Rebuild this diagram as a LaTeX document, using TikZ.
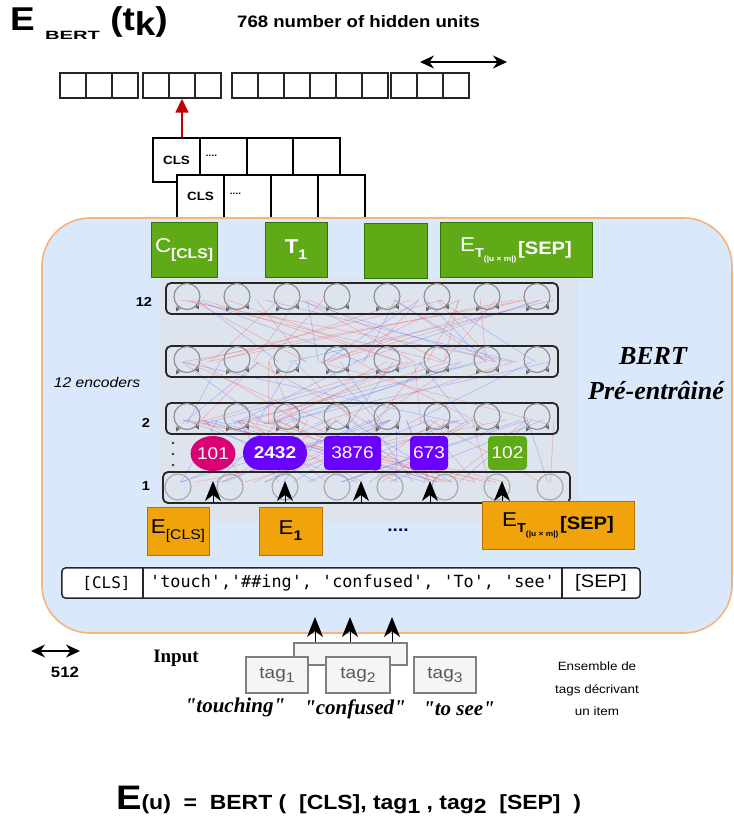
\documentclass[tikz,border=0pt]{standalone}
\usepackage{fontspec}
\setmainfont{Liberation Sans}[FakeStretch=1.12]
\newfontfamily\bertserif{Liberation Serif}
\newfontfamily\bertmono{DejaVu Sans Mono}
\usetikzlibrary{arrows.meta,positioning,calc,shapes.geometric}

\definecolor{bertblue}{HTML}{DAE8FC}
\definecolor{bertedge}{HTML}{F8B27C}
\definecolor{nnback}{HTML}{DDE4EE}
\definecolor{greenfill}{HTML}{60A917}
\definecolor{greenedge}{HTML}{2D7600}
\definecolor{orangefill}{HTML}{F0A30A}
\definecolor{orangeedge}{HTML}{BD7000}
\definecolor{magentafill}{HTML}{D80073}
\definecolor{purplefill}{HTML}{6A00FF}
\definecolor{tagfill}{HTML}{F5F5F5}
\definecolor{tagedge}{HTML}{7F7F7F}
\definecolor{clsred}{HTML}{C00000}

\newcommand{\setfs}[1]{\fontsize{#1}{#1}\selectfont}
\newcommand{\etsep}{{\setfs{20}E}\raisebox{-6pt}{\setfs{13}\bfseries T}\raisebox{-10pt}{\setfs{7.5}\bfseries(|u × m|)}\,\raisebox{-3pt}{\setfs{18}\bfseries[SEP]}}

\begin{document}
\begin{tikzpicture}[x=1pt,y=-1pt,
  cell/.style={draw=black!85,line width=1.4pt,minimum width=26pt,minimum height=25pt,inner sep=0pt},
  clscell/.style={draw=black,fill=white,line width=1.2pt,minimum width=47pt,minimum height=44pt,inner sep=0pt,font=\setfs{12}\bfseries},
  greenbox/.style={draw=greenedge,fill=greenfill,line width=0.8pt,text=white,inner sep=0pt,minimum height=55pt},
  orangebox/.style={draw=orangeedge,fill=orangefill,line width=0.8pt,inner sep=0pt,minimum height=48pt},
  enclayer/.style={draw=black!85,line width=1.8pt,rounded corners=5pt,minimum height=31pt,inner sep=0pt},
  neuron/.style={circle,draw=black!45,line width=1.1pt,minimum size=26pt,inner sep=0pt},
  idbadge/.style={text=white,inner sep=0pt,minimum height=34pt,font=\setfs{17}},
  tokcell/.style={fill=white,minimum height=30pt,inner sep=0pt},
  tagbox/.style={draw=tagedge,fill=tagfill,line width=1.8pt,minimum height=36pt,inner sep=0pt,text=black!65,font=\setfs{17}},
  headarrow/.style={-{Stealth[length=20pt,width=16pt,inset=6pt]},line width=1pt},
  dblarrow/.style={{Stealth[length=14pt,width=13pt]}-{Stealth[length=14pt,width=13pt]},line width=1.5pt},
  quotetext/.style={font=\bertserif\bfseries\itshape\setfs{21}}
]
\useasboundingbox (0,0) rectangle (734,820);

% title and hidden vector
\node[anchor=west,inner sep=0pt] (title) at (10,23)
  {\setfs{33}\bfseries E \raisebox{-9pt}{\scalebox{1.5}[1]{\setfs{12}BERT}} (t\raisebox{-5pt}{k})};
\node[anchor=west,inner sep=0pt] (hidden) at (237,22) {\setfs{16.6}\bfseries 768 number of hidden units};
\coordinate (hl) at (420,62);
\coordinate (hr) at (507,62);
\draw[dblarrow] (hl) -- (hr);
\foreach \g/\gx in {1/60,2/143,3/232,4/310,5/391}
  \foreach \c in {0,1,2}
    \node[cell] (h\g-\c) at (\gx+13+26*\c,85.5) {};

% CLS outputs
\node[clscell] (c1-1) at (176.5,160) {\raisebox{-6pt}{CLS}};
\foreach \c/\cx in {2/223.5,3/270.5,4/316.5}
  \node[clscell] (c1-\c) at (\cx,160) {};
\node[anchor=west,font=\setfs{9}\bfseries] (d1) at ([xshift=3pt,yshift=4pt]c1-2.west) {....};
\node[clscell,minimum height=43pt] (c2-1) at (200.5,196.5) {CLS};
\foreach \c/\cx in {2/247.5,3/294.5,4/341.5}
  \node[clscell,minimum height=43pt] (c2-\c) at (\cx,196.5) {};
\node[anchor=west,font=\setfs{9}\bfseries] (d2) at ([xshift=3pt,yshift=3pt]c2-2.west) {....};
\draw[clsred,line width=1.6pt,-{Triangle[length=14pt,width=13pt]}] (c1-1.north -| h2-1) -- (h2-1.south);

% BERT block
\draw[draw=bertedge,fill=bertblue,line width=1.6pt,rounded corners=48pt] (42,218) rectangle (732,633);
\fill[nnback] (160,278) rectangle (577,522);
\draw[gray!25] (577,278) -- (577,522);

\node[greenbox,minimum width=66pt] (gcls) at (184,250) {{\setfs{20}C}\raisebox{-6pt}{\setfs{14}\bfseries[CLS]}};
\node[greenbox,minimum width=62pt] (gt1) at (296,250) {{\setfs{20}\bfseries T}\raisebox{-6pt}{\setfs{14}\bfseries 1}};
\node[greenbox,minimum width=63pt] (gmid) at (395.5,250.5) {};
\node[greenbox,minimum width=152pt] (gsep) at (516,250) {\etsep};

% attention lines
\pgfmathsetseed{11}
\foreach \k in {1,...,70}{
  \pgfmathsetmacro{\xa}{180+380*rnd}
  \pgfmathsetmacro{\xb}{180+380*rnd}
  \pgfmathsetmacro{\ya}{{300,362,420}[random(0,2)]}
  \draw[red!70,opacity=0.35,line width=0.6pt] (\xa,\ya) -- (\xb,\ya+62);
}
\foreach \k in {1,...,55}{
  \pgfmathsetmacro{\xa}{180+380*rnd}
  \pgfmathsetmacro{\xb}{180+380*rnd}
  \pgfmathsetmacro{\ya}{{300,362,420}[random(0,2)]}
  \draw[blue!70,opacity=0.3,line width=0.6pt] (\xa,\ya) -- (\xb,\ya+62);
}

% encoder layers
\foreach \l/\ly in {12/298.5,11/361.5,2/418.5}{
  \node[enclayer,minimum width=392pt] (l\l) at (362,\ly) {};
  \foreach \i in {0,...,7}{
    \node[neuron] (n\l-\i) at (187+50*\i,\ly-2) {};
    \draw[black!60,line width=0.9pt,-{Stealth[length=5pt,width=5pt]}] (187+50*\i+9,\ly+6) -- ++(3,5);
    \draw[black!60,line width=0.9pt,-{Stealth[length=5pt,width=5pt]}] (187+50*\i-8,\ly+8) -- ++(-3,5);
  }
}
\node[enclayer,minimum width=407pt] (l1) at (366.5,487.5) {};
\foreach \cx [count=\i] in {178,230,285,337,390,445,497,550}
  \node[neuron,draw=black!35] (n1-\i) at (\cx,487) {};

% token ids
\node[idbadge,ellipse,fill=magentafill,minimum width=40pt,minimum height=35pt] (t101) at (213,453.5) {101};
\node[idbadge,fill=purplefill,rounded corners=17pt,minimum width=64pt,font=\setfs{17}\bfseries] (t2432) at (275,453) {2432};
\node[idbadge,fill=purplefill,rounded corners=4pt,minimum width=57pt] (t3876) at (352.5,453) {3876};
\node[idbadge,fill=purplefill,rounded corners=4pt,minimum width=38pt] (t673) at (429,453) {673};
\node[idbadge,fill=greenfill,rounded corners=4pt,minimum width=39pt] (t102) at (507.5,453) {102};

% arrows into layer 1
\foreach \ax [count=\i] in {213,285,361,430,502}{
  \coordinate (in\i) at (\ax,503);
  \coordinate (up\i) at (\ax,481);
  \draw[headarrow] (in\i) -- (up\i);
}

% layer labels
\node[font=\setfs{13}\bfseries] (lab12) at (144,302) {12};
\node[font=\setfs{13}\bfseries] (lab2) at (146,423) {2};
\node[font=\setfs{13}\bfseries] (lab1) at (146,486) {1};
\foreach \dy in {443,454,465}
  \fill[black!80] (173,\dy) circle (1.3pt);
\node[font=\setfs{14}\itshape] (encs) at (97,382) {12 encoders};
\node[font=\bertserif\bfseries\itshape\setfs{26}] (bert) at (653,356) {BERT};
\node[font=\bertserif\bfseries\itshape\setfs{26}] (pre) at (656,390) {Pré-entrâiné};

% input embeddings
\node[orangebox,minimum width=62pt] (ecls) at (178,531) {{\setfs{20}E}\raisebox{-6pt}{\setfs{14}[CLS]}};
\node[orangebox,minimum width=63pt] (e1) at (290.5,531) {{\setfs{20}E}\raisebox{-6pt}{\setfs{14}\bfseries 1}};
\node[font=\setfs{17}\bfseries,text=blue!30!black] (edots) at (398,530) {....};
\node[orangebox,minimum width=152pt] (esep) at (558,525) {\etsep};

% wordpiece tokens
\node[tokcell,minimum width=81pt,font=\bertmono\setfs{16}] (tcls) at (102.5,583) {\hspace*{8pt}[CLS]};
\node[tokcell,minimum width=419pt,font=\bertmono\setfs{16.8}] (twords) at (352.5,583) {'touch','\#\#ing', 'confused', 'To', 'see'};
\node[tokcell,minimum width=78pt,font=\setfs{18}] (tsep) at (601,583) {[SEP]};
\draw[black!85,line width=1.5pt,rounded corners=4pt] (tcls.north west) rectangle (tsep.south east);
\draw[black!85,line width=1.5pt] (tcls.north east) -- (tcls.south east);
\draw[black!85,line width=1.5pt] (tsep.north west) -- (tsep.south west);

% input tags
\node[tagbox,minimum width=113pt,minimum height=22pt] (tagback) at (350.5,654) {};
\node[tagbox,minimum width=62pt] (tag1) at (277,675) {tag\raisebox{-4pt}{\setfs{14}1}};
\node[tagbox,minimum width=64pt] (tag2) at (358,675) {tag\raisebox{-4pt}{\setfs{14}2}};
\node[tagbox,minimum width=62pt] (tag3) at (445,675) {tag\raisebox{-4pt}{\setfs{14}3}};
\foreach \ax [count=\i] in {315,350,392}{
  \coordinate (tip\i) at (\ax,617);
  \draw[headarrow] (tagback.north -| tip\i) -- (tip\i);
}
\node[quotetext] (q1) at (235,707) {"touching"};
\node[quotetext] (q2) at (355,709) {"confused"};
\node[quotetext] (q3) at (459,709) {"to see"};
\node[font=\bertserif\bfseries\setfs{19}] (input) at (176,658) {Input};
\node[align=center,font=\fontsize{12}{22.5}\selectfont] (ens) at (597,689) {Ensemble de\\tags décrivant\\un item};
\coordinate (wl) at (31,651);
\coordinate (wr) at (80,651);
\draw[dblarrow] (wl) -- (wr);
\node[font=\setfs{15}\bfseries] (w512) at (65,672) {512};

% formula
\node[anchor=west,inner sep=0pt,font=\bfseries] (formula) at (116,800)
  {{\setfs{34}E}{\setfs{20.5}(u) \ = \ BERT ( \ [CLS], tag\raisebox{-4pt}{1} , tag\raisebox{-4pt}{2} \ [SEP] \ )}};
\end{tikzpicture}
\end{document}
